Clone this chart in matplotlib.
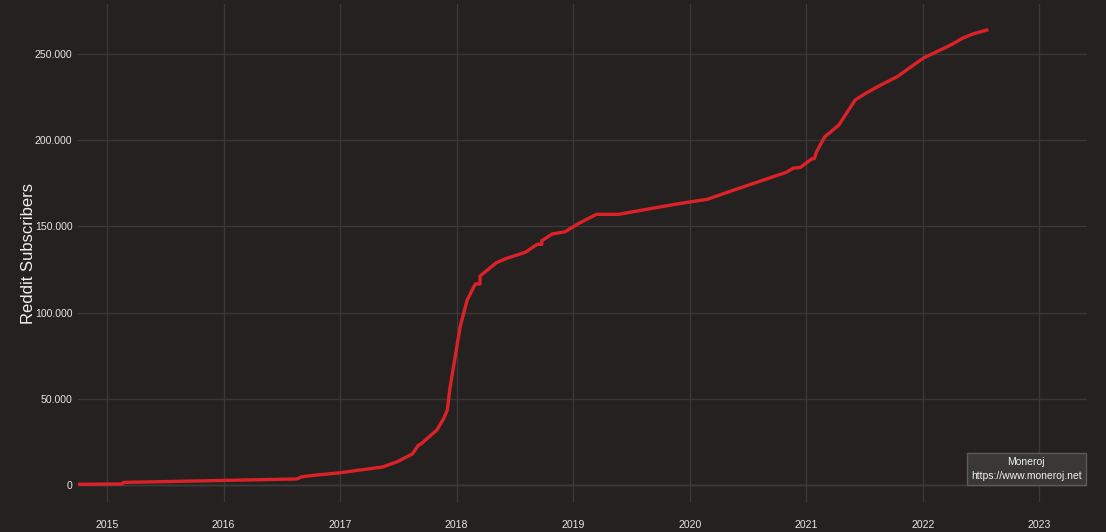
import matplotlib
matplotlib.use("Agg")
import matplotlib.pyplot as plt
from matplotlib.ticker import FuncFormatter

plt.rcParams['font.family'] = ['Liberation Sans', 'DejaVu Sans']

# decimal year of each reading
years = [2014.75, 2015.13, 2015.14, 2016.63, 2016.67, 2016.80, 2017.00, 2017.17,
         2017.34, 2017.37, 2017.49, 2017.62, 2017.67, 2017.69, 2017.83, 2017.89,
         2017.92, 2017.94, 2018.03, 2018.09, 2018.16, 2018.20, 2018.201, 2018.34,
         2018.43, 2018.59, 2018.69, 2018.73, 2018.731, 2018.82, 2018.93, 2019.05,
         2019.20, 2019.39, 2019.63, 2019.89, 2020.15, 2020.38, 2020.83, 2020.89,
         2020.95, 2021.05, 2021.07, 2021.09, 2021.16, 2021.28, 2021.42, 2021.51,
         2021.64, 2021.78, 2021.90, 2022.01, 2022.12, 2022.24, 2022.34, 2022.43,
         2022.55]
subscribers = [400, 600, 1500, 3500, 4800, 5800, 7100, 8700,
               10200, 10600, 13500, 18000, 23000, 23600, 31900, 38700,
               43500, 55100, 91800, 107300, 116600, 116600, 121200, 128900,
               131500, 135000, 139600, 139600, 141700, 145600, 146900, 151800,
               157000, 157000, 159900, 163000, 165700, 171100, 181400, 183800,
               184200, 189300, 189300, 193500, 202000, 208800, 223300, 227200,
               232000, 236800, 242600, 247800, 251300, 255200, 259100, 261600,
               263900]

xticks = [2015, 2016, 2017, 2018, 2019, 2020, 2021, 2022, 2023]
yticks = [0, 50000, 100000, 150000, 200000, 250000]

bg = '#252120'
fig = plt.figure(figsize=(11.06, 5.32), dpi=100, facecolor=bg)
ax = fig.add_axes([78/1106, 1-502/532, (1087-78)/1106, (502-4)/532], facecolor=bg)

ax.plot(years, subscribers, color='#dc2228', linewidth=2.4, solid_joinstyle='round', zorder=3)

ax.set_xlim(2014.75, 2023.41)
ax.set_ylim(-9860, 279000)
ax.set_xticks(xticks)
ax.set_xticklabels([str(t) for t in xticks])
ax.set_yticks(yticks)
ax.yaxis.set_major_formatter(FuncFormatter(lambda v, p: f"{int(v):,}".replace(",", ".")))

ax.grid(True, color='#3b3938', linewidth=0.9, zorder=0)
ax.axhline(0, color='#55524f', linewidth=1.0, zorder=1)
for s in ax.spines.values():
    s.set_visible(False)
ax.tick_params(axis='both', length=0, colors='#e6e6e6', labelsize=7.6)
ax.tick_params(axis='x', pad=13)
ax.tick_params(axis='y', pad=4)

ax.set_ylabel('Reddit Subscribers', color='#f0f0f0', fontsize=12)
ax.yaxis.set_label_coords(-0.042, 0.5)

ax.text(0.9947, 0.042, 'Moneroj\nhttps://www.moneroj.net', transform=ax.transAxes,
        ha='right', va='bottom', color='#f0f0f0', fontsize=7.5, multialignment='center',
        linespacing=1.5,
        bbox=dict(boxstyle='square,pad=0.4', facecolor='#393837', edgecolor='#5c5a58', linewidth=1.0),
        zorder=5)

fig.savefig('out.png', dpi=100, facecolor=bg)
